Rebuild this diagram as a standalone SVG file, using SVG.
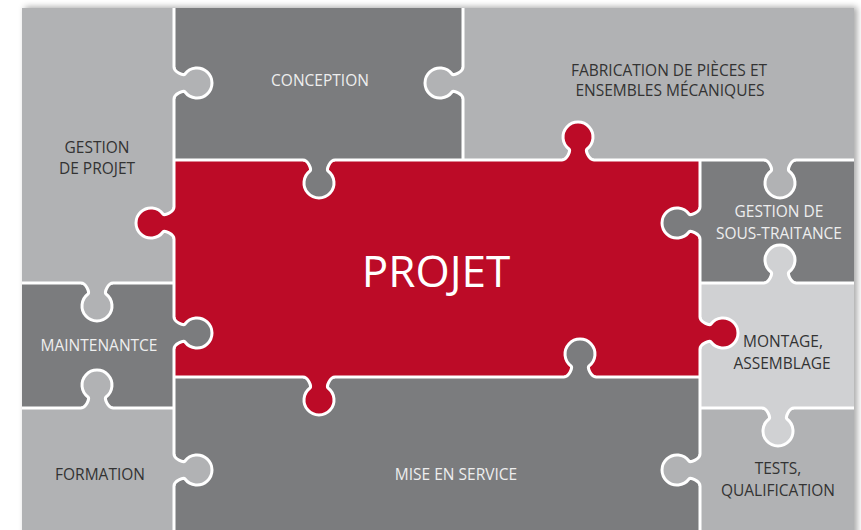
<svg xmlns="http://www.w3.org/2000/svg" xmlns:xlink="http://www.w3.org/1999/xlink" width="861" height="530" viewBox="0 0 861 530">
  <defs>
    <filter id="shadow" x="-5%" y="-5%" width="110%" height="110%">
      <feDropShadow dx="3" dy="-1" stdDeviation="3" flood-color="#000" flood-opacity="0.35"/>
    </filter>
    <path id="kf" d="M-3,-16 L0,-16 C0,-11 9.5,-7 11,-9 A15,15 0 1,1 11,9 C9.5,7 0,11 0,16 L-3,16 Z"/>
    <path id="ks" d="M0,-16 C0,-11 9.5,-7 11,-9 A15,15 0 1,1 11,9 C9.5,7 0,11 0,16"/>
  </defs>
  <style>
    .light { fill: #b1b2b4; }
    .dark { fill: #7b7c7e; }
    .lighter { fill: #d0d1d3; }
    .red { fill: #bc0b27; }
    .div { stroke: #ffffff; stroke-width: 3; fill: none; stroke-linecap: butt; }
    .ks { stroke: #ffffff; stroke-width: 3; fill: none; }
    .t { font-family: "Open Sans", "Noto Sans", sans-serif; font-size: 15.5px; text-anchor: middle; }
    .td { fill: #333333; }
    .tl { fill: #eeeeee; }
    .big { font-family: "Open Sans", "Noto Sans", sans-serif; font-size: 44px; fill: #ffffff; text-anchor: middle; }
  </style>

  <rect x="22" y="8" width="832" height="530" fill="#b1b2b4" filter="url(#shadow)"/>

  <g id="gestion-projet">
    <rect class="light" x="22" y="8" width="152" height="275"/>
    <text class="t td" x="97" y="153">GESTION</text>
    <text class="t td" x="97" y="174">DE PROJET</text>
  </g>
  <g id="conception">
    <rect class="dark" x="174" y="8" width="289" height="152"/>
    <text class="t tl" x="320" y="86">CONCEPTION</text>
  </g>
  <g id="fabrication">
    <rect class="light" x="463" y="8" width="391" height="152"/>
    <text class="t td" x="669" y="76">FABRICATION DE PIÈCES ET</text>
    <text class="t td" x="670" y="96">ENSEMBLES MÉCANIQUES</text>
  </g>
  <g id="projet">
    <rect class="red" x="174" y="160" width="526" height="217"/>
    <text class="big" x="436" y="287">PROJET</text>
  </g>
  <g id="sous-traitance">
    <rect class="dark" x="700" y="160" width="154" height="123"/>
    <text class="t tl" x="779" y="217">GESTION DE</text>
    <text class="t tl" x="779" y="239">SOUS-TRAITANCE</text>
  </g>
  <g id="maintenance">
    <rect class="dark" x="22" y="283" width="152" height="125"/>
    <text class="t tl" x="99" y="351">MAINTENANTCE</text>
  </g>
  <g id="montage">
    <rect class="lighter" x="700" y="283" width="154" height="125"/>
    <text class="t td" x="783" y="347">MONTAGE,</text>
    <text class="t td" x="782" y="369">ASSEMBLAGE</text>
  </g>
  <g id="formation">
    <rect class="light" x="22" y="408" width="152" height="122"/>
    <text class="t td" x="100" y="480">FORMATION</text>
  </g>
  <g id="mise-en-service">
    <rect class="dark" x="174" y="377" width="526" height="153"/>
    <text class="t tl" x="456" y="480">MISE EN SERVICE</text>
  </g>
  <g id="tests">
    <rect class="light" x="700" y="408" width="154" height="122"/>
    <text class="t td" x="778" y="474">TESTS,</text>
    <text class="t td" x="778" y="496">QUALIFICATION</text>
  </g>

  <g id="connectors">
    <path class="div" d="M174,8 V530 M463,8 V160 M174,160 H854 M700,160 V530 M22,283 H174 M22,408 H174 M174,377 H700 M700,283 H854 M700,408 H854"/>

    <use xlink:href="#kf" class="light" transform="translate(174,83)"/>
    <use xlink:href="#ks" class="ks" transform="translate(174,83)"/>

    <use xlink:href="#kf" class="light" transform="translate(463,83) rotate(180)"/>
    <use xlink:href="#ks" class="ks" transform="translate(463,83) rotate(180)"/>

    <use xlink:href="#kf" class="dark" transform="translate(319,160) rotate(90)"/>
    <use xlink:href="#ks" class="ks" transform="translate(319,160) rotate(90)"/>

    <use xlink:href="#kf" class="red" transform="translate(174,223) rotate(180)"/>
    <use xlink:href="#ks" class="ks" transform="translate(174,223) rotate(180)"/>

    <use xlink:href="#kf" class="red" transform="translate(578,160) rotate(-90)"/>
    <use xlink:href="#ks" class="ks" transform="translate(578,160) rotate(-90)"/>

    <use xlink:href="#kf" class="light" transform="translate(780,160) rotate(90)"/>
    <use xlink:href="#ks" class="ks" transform="translate(780,160) rotate(90)"/>

    <use xlink:href="#kf" class="dark" transform="translate(700,223) rotate(180)"/>
    <use xlink:href="#ks" class="ks" transform="translate(700,223) rotate(180)"/>

    <use xlink:href="#kf" class="lighter" transform="translate(780,283) rotate(-90)"/>
    <use xlink:href="#ks" class="ks" transform="translate(780,283) rotate(-90)"/>

    <use xlink:href="#kf" class="red" transform="translate(700,333)"/>
    <use xlink:href="#ks" class="ks" transform="translate(700,333)"/>

    <use xlink:href="#kf" class="dark" transform="translate(580,377) rotate(-90)"/>
    <use xlink:href="#ks" class="ks" transform="translate(580,377) rotate(-90)"/>

    <use xlink:href="#kf" class="lighter" transform="translate(778,408) rotate(90)"/>
    <use xlink:href="#ks" class="ks" transform="translate(778,408) rotate(90)"/>

    <use xlink:href="#kf" class="light" transform="translate(700,470) rotate(180)"/>
    <use xlink:href="#ks" class="ks" transform="translate(700,470) rotate(180)"/>

    <use xlink:href="#kf" class="light" transform="translate(97,283) rotate(90)"/>
    <use xlink:href="#ks" class="ks" transform="translate(97,283) rotate(90)"/>

    <use xlink:href="#kf" class="dark" transform="translate(174,333)"/>
    <use xlink:href="#ks" class="ks" transform="translate(174,333)"/>

    <use xlink:href="#kf" class="light" transform="translate(97,408) rotate(-90)"/>
    <use xlink:href="#ks" class="ks" transform="translate(97,408) rotate(-90)"/>

    <use xlink:href="#kf" class="red" transform="translate(319,377) rotate(90)"/>
    <use xlink:href="#ks" class="ks" transform="translate(319,377) rotate(90)"/>

    <use xlink:href="#kf" class="light" transform="translate(174,470)"/>
    <use xlink:href="#ks" class="ks" transform="translate(174,470)"/>
  </g>
</svg>
